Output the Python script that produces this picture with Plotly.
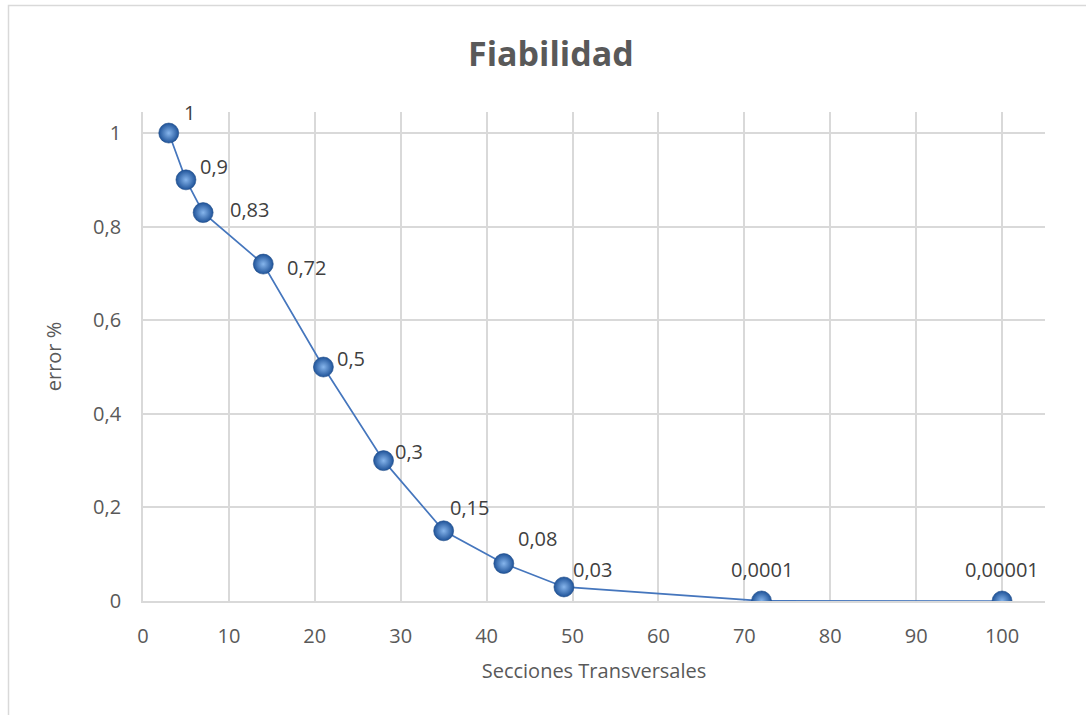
import plotly.graph_objects as go

# Reliability curve: error versus number of cross sections
secciones = [3, 5, 7, 14, 21, 28, 35, 42, 49, 72, 100]
error_pct = [1, 0.9, 0.83, 0.72, 0.5, 0.3, 0.15, 0.08, 0.03, 0.0001, 0.00001]

x_ticks = [0, 10, 20, 30, 40, 50, 60, 70, 80, 90, 100]
y_ticks = [0, 0.2, 0.4, 0.6, 0.8, 1]

# Label placement (pixel offsets from each point), anchor side
label_dx = [13, 12, 25, 22, 12, 9, 4, 12, 7, 0, 0]
label_dy = [21, 13, 3, -3, 9, 9, 23, 25, 17, 31, 32]
label_anchor = ["left"] * 9 + ["center", "center"]

W, H = 1086, 715
L, R, T, B = 143, 41, 112, 114

TEXT = "#595959"
GRID = "#d9d9d9"
FONT = "Open Sans"


def fmt(v):
    s = f"{v:.5f}".rstrip("0").rstrip(".")
    return s.replace(".", ",")


def px_x(p):
    return (p - L) / (W - L - R)


def px_y(p):
    return (H - B - p) / (H - T - B)


fig = go.Figure()
fig.add_trace(go.Scatter(
    x=secciones,
    y=error_pct,
    mode="lines+markers",
    line=dict(color="#4576BD", width=1.7),
    marker=dict(
        size=20,
        color="#1F5399",
        gradient=dict(type="radial", color="#86B5EC"),
        line=dict(color="#1E4C88", width=0.6),
    ),
    hoverinfo="x+y",
    showlegend=False,
))

annotations = []
for xv, yv, dx, dy, anc in zip(secciones, error_pct, label_dx, label_dy, label_anchor):
    annotations.append(dict(
        x=xv, y=yv, xref="x", yref="y",
        text=fmt(yv), showarrow=False,
        xanchor=anc, yanchor="middle",
        xshift=dx, yshift=dy,
        font=dict(family=FONT, size=20, color="#404040"),
    ))

# Chart title
annotations.append(dict(
    x=px_x(551), y=px_y(53), xref="paper", yref="paper",
    text="<b>Fiabilidad</b>", showarrow=False,
    xanchor="center", yanchor="middle",
    font=dict(family=FONT, size=34, color=TEXT),
))

fig.update_layout(
    width=W, height=H,
    margin=dict(l=L, r=R, t=T, b=B),
    paper_bgcolor="white",
    plot_bgcolor="white",
    separators=", ",
    font=dict(family=FONT, size=20, color=TEXT),
    annotations=annotations,
    shapes=[dict(
        type="rect", xref="paper", yref="paper",
        x0=px_x(8.5), x1=px_x(1095), y0=px_y(725), y1=px_y(5.5),
        line=dict(color="#d9d9d9", width=1.5),
        fillcolor="rgba(0,0,0,0)", layer="below",
    )],
)

fig.update_xaxes(
    range=[0, 105],
    tickvals=x_ticks,
    showgrid=True, gridcolor=GRID, gridwidth=1.8,
    showline=True, linecolor=GRID, linewidth=1.8,
    zeroline=False,
    ticks="outside", ticklen=16, tickcolor="rgba(0,0,0,0)",
    tickfont=dict(family=FONT, size=20, color=TEXT),
    title=dict(text="Secciones Transversales", standoff=16,
               font=dict(family=FONT, size=20, color=TEXT)),
)
fig.update_yaxes(
    range=[0, 1.045],
    tickvals=y_ticks,
    showgrid=True, gridcolor=GRID, gridwidth=1.8,
    showline=True, linecolor=GRID, linewidth=1.8,
    zeroline=False,
    ticks="outside", ticklen=16, tickcolor="rgba(0,0,0,0)",
    tickfont=dict(family=FONT, size=20, color=TEXT),
    title=dict(text="error %", standoff=26,
               font=dict(family=FONT, size=20, color=TEXT)),
)

fig.write_html("out.html")
